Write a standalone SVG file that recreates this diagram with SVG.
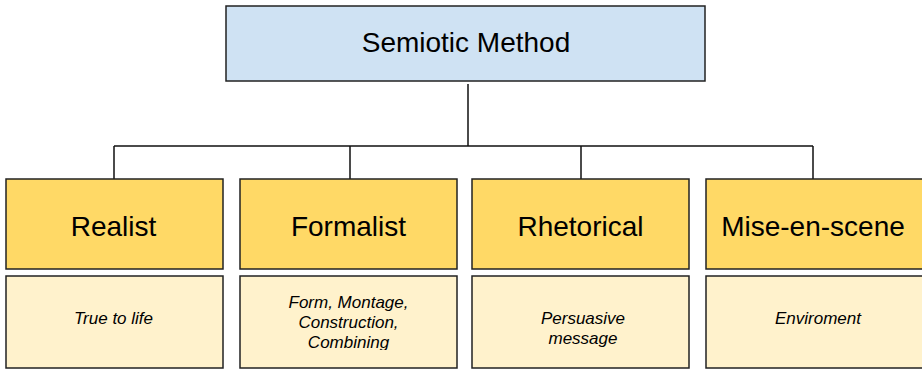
<svg xmlns="http://www.w3.org/2000/svg" width="922" height="369" viewBox="0 0 922 369">
<style>
.box{stroke:#222;stroke-width:1.5}
.top{fill:#cfe2f3}
.lvl{fill:#ffd966}
.sub{fill:#fff2cc}
.t{font-family:"Liberation Sans",Arial,sans-serif;fill:#000;text-anchor:middle}
.big{font-size:28px}
.small{font-size:17px;font-style:italic}
.conn{stroke:#111;stroke-width:1.5;fill:none}
</style>
<defs>
<clipPath id="clipF"><rect x="240" y="276" width="217" height="74"/></clipPath>
</defs>
<rect width="922" height="369" fill="#fff"/>
<g id="connectors">
<path class="conn" d="M468 84V146M114 146H813M114 146V179M350 146V179M581 146V179M813 146V179"/>
</g>
<g id="semiotic-method">
<rect class="box top" x="226" y="6" width="479" height="75"/>
<text class="t big" x="466" y="52">Semiotic Method</text>
</g>
<g id="realist">
<rect class="box lvl" x="6" y="179" width="217" height="90"/>
<text class="t big" x="113.5" y="236">Realist</text>
</g>
<g id="realist-desc">
<rect class="box sub" x="6" y="276" width="217" height="92"/>
<text class="t small" x="113.5" y="324">True to life</text>
</g>
<g id="formalist">
<rect class="box lvl" x="240" y="179" width="217" height="90"/>
<text class="t big" x="348.5" y="236">Formalist</text>
</g>
<g id="formalist-desc">
<rect class="box sub" x="240" y="276" width="217" height="92"/>
<g clip-path="url(#clipF)">
<text class="t small" x="348.5" y="308">Form, Montage,</text>
<text class="t small" x="348.5" y="328">Construction,</text>
<text class="t small" x="348.5" y="348">Combining</text>
</g>
</g>
<g id="rhetorical">
<rect class="box lvl" x="472" y="179" width="217" height="90"/>
<text class="t big" x="580.5" y="236">Rhetorical</text>
</g>
<g id="rhetorical-desc">
<rect class="box sub" x="472" y="276" width="217" height="92"/>
<text class="t small" x="583" y="324">Persuasive</text>
<text class="t small" x="583" y="344">message</text>
</g>
<g id="mise-en-scene">
<rect class="box lvl" x="706" y="179" width="220" height="90"/>
<text class="t big" x="813" y="236">Mise-en-scene</text>
</g>
<g id="mise-en-scene-desc">
<rect class="box sub" x="706" y="276" width="220" height="92"/>
<text class="t small" x="818" y="324">Enviroment</text>
</g>
</svg>
